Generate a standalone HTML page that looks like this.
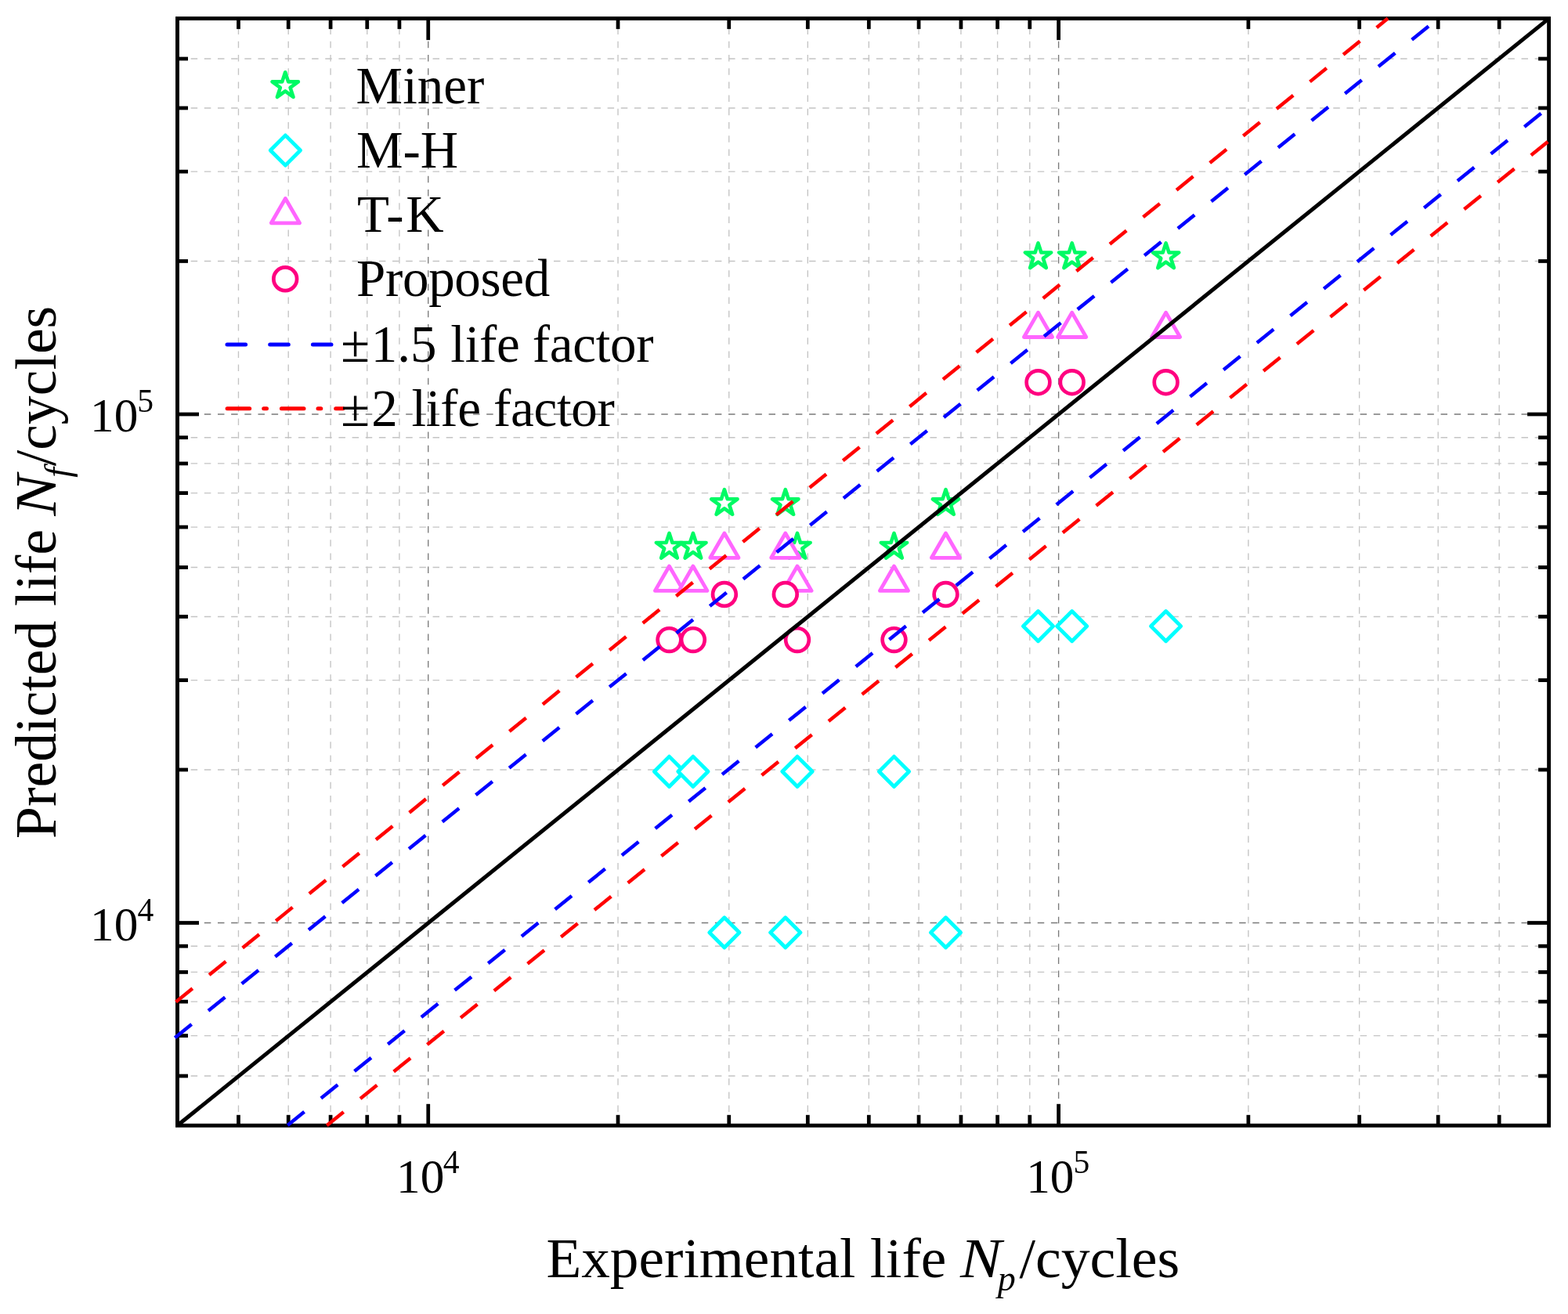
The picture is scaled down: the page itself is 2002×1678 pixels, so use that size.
<!DOCTYPE html><html><head><meta charset="utf-8"><title>Predicted vs experimental life</title><style>html,body{margin:0;padding:0;background:#fff;overflow:hidden;}svg{display:block;}text{font-family:"Liberation Serif","Times New Roman",serif;fill:#000;}</style></head><body>
<svg width="2002" height="1678" viewBox="0 0 2002 1678">
<rect width="2002" height="1678" fill="#fff"/>
<g id="grid"><line x1="304.47" y1="1437.3" x2="304.47" y2="23.6" stroke="#C4C4C4" stroke-width="1.35" stroke-dasharray="8.5 8.70"/><line x1="368.20" y1="1437.3" x2="368.20" y2="23.6" stroke="#C4C4C4" stroke-width="1.35" stroke-dasharray="8.5 8.70"/><line x1="422.08" y1="1437.3" x2="422.08" y2="23.6" stroke="#C4C4C4" stroke-width="1.35" stroke-dasharray="8.5 8.70"/><line x1="468.75" y1="1437.3" x2="468.75" y2="23.6" stroke="#C4C4C4" stroke-width="1.35" stroke-dasharray="8.5 8.70"/><line x1="509.92" y1="1437.3" x2="509.92" y2="23.6" stroke="#C4C4C4" stroke-width="1.35" stroke-dasharray="8.5 8.70"/><line x1="546.75" y1="1437.3" x2="546.75" y2="23.6" stroke="#7A7A7A" stroke-width="1.35" stroke-dasharray="8.5 8.70"/><line x1="789.03" y1="1437.3" x2="789.03" y2="23.6" stroke="#C4C4C4" stroke-width="1.35" stroke-dasharray="8.5 8.70"/><line x1="930.76" y1="1437.3" x2="930.76" y2="23.6" stroke="#C4C4C4" stroke-width="1.35" stroke-dasharray="8.5 8.70"/><line x1="1031.32" y1="1437.3" x2="1031.32" y2="23.6" stroke="#C4C4C4" stroke-width="1.35" stroke-dasharray="8.5 8.70"/><line x1="1109.32" y1="1437.3" x2="1109.32" y2="23.6" stroke="#C4C4C4" stroke-width="1.35" stroke-dasharray="8.5 8.70"/><line x1="1173.05" y1="1437.3" x2="1173.05" y2="23.6" stroke="#C4C4C4" stroke-width="1.35" stroke-dasharray="8.5 8.70"/><line x1="1226.93" y1="1437.3" x2="1226.93" y2="23.6" stroke="#C4C4C4" stroke-width="1.35" stroke-dasharray="8.5 8.70"/><line x1="1273.60" y1="1437.3" x2="1273.60" y2="23.6" stroke="#C4C4C4" stroke-width="1.35" stroke-dasharray="8.5 8.70"/><line x1="1314.77" y1="1437.3" x2="1314.77" y2="23.6" stroke="#C4C4C4" stroke-width="1.35" stroke-dasharray="8.5 8.70"/><line x1="1351.60" y1="1437.3" x2="1351.60" y2="23.6" stroke="#7A7A7A" stroke-width="1.35" stroke-dasharray="8.5 8.70"/><line x1="1593.88" y1="1437.3" x2="1593.88" y2="23.6" stroke="#C4C4C4" stroke-width="1.35" stroke-dasharray="8.5 8.70"/><line x1="1735.61" y1="1437.3" x2="1735.61" y2="23.6" stroke="#C4C4C4" stroke-width="1.35" stroke-dasharray="8.5 8.70"/><line x1="1836.17" y1="1437.3" x2="1836.17" y2="23.6" stroke="#C4C4C4" stroke-width="1.35" stroke-dasharray="8.5 8.70"/><line x1="1914.17" y1="1437.3" x2="1914.17" y2="23.6" stroke="#C4C4C4" stroke-width="1.35" stroke-dasharray="8.5 8.70"/><line x1="226.5" y1="1374.02" x2="1977.6" y2="1374.02" stroke="#C4C4C4" stroke-width="1.35" stroke-dasharray="8.5 8.66"/><line x1="226.5" y1="1322.59" x2="1977.6" y2="1322.59" stroke="#C4C4C4" stroke-width="1.35" stroke-dasharray="8.5 8.66"/><line x1="226.5" y1="1279.11" x2="1977.6" y2="1279.11" stroke="#C4C4C4" stroke-width="1.35" stroke-dasharray="8.5 8.66"/><line x1="226.5" y1="1241.44" x2="1977.6" y2="1241.44" stroke="#C4C4C4" stroke-width="1.35" stroke-dasharray="8.5 8.66"/><line x1="226.5" y1="1208.22" x2="1977.6" y2="1208.22" stroke="#C4C4C4" stroke-width="1.35" stroke-dasharray="8.5 8.66"/><line x1="226.5" y1="1178.50" x2="1977.6" y2="1178.50" stroke="#7A7A7A" stroke-width="1.35" stroke-dasharray="8.5 8.66"/><line x1="226.5" y1="982.98" x2="1977.6" y2="982.98" stroke="#C4C4C4" stroke-width="1.35" stroke-dasharray="8.5 8.66"/><line x1="226.5" y1="868.61" x2="1977.6" y2="868.61" stroke="#C4C4C4" stroke-width="1.35" stroke-dasharray="8.5 8.66"/><line x1="226.5" y1="787.46" x2="1977.6" y2="787.46" stroke="#C4C4C4" stroke-width="1.35" stroke-dasharray="8.5 8.66"/><line x1="226.5" y1="724.52" x2="1977.6" y2="724.52" stroke="#C4C4C4" stroke-width="1.35" stroke-dasharray="8.5 8.66"/><line x1="226.5" y1="673.09" x2="1977.6" y2="673.09" stroke="#C4C4C4" stroke-width="1.35" stroke-dasharray="8.5 8.66"/><line x1="226.5" y1="629.61" x2="1977.6" y2="629.61" stroke="#C4C4C4" stroke-width="1.35" stroke-dasharray="8.5 8.66"/><line x1="226.5" y1="591.94" x2="1977.6" y2="591.94" stroke="#C4C4C4" stroke-width="1.35" stroke-dasharray="8.5 8.66"/><line x1="226.5" y1="558.72" x2="1977.6" y2="558.72" stroke="#C4C4C4" stroke-width="1.35" stroke-dasharray="8.5 8.66"/><line x1="226.5" y1="529.00" x2="1977.6" y2="529.00" stroke="#7A7A7A" stroke-width="1.35" stroke-dasharray="8.5 8.66"/><line x1="226.5" y1="333.48" x2="1977.6" y2="333.48" stroke="#C4C4C4" stroke-width="1.35" stroke-dasharray="8.5 8.66"/><line x1="226.5" y1="219.11" x2="1977.6" y2="219.11" stroke="#C4C4C4" stroke-width="1.35" stroke-dasharray="8.5 8.66"/><line x1="226.5" y1="137.96" x2="1977.6" y2="137.96" stroke="#C4C4C4" stroke-width="1.35" stroke-dasharray="8.5 8.66"/><line x1="226.5" y1="75.02" x2="1977.6" y2="75.02" stroke="#C4C4C4" stroke-width="1.35" stroke-dasharray="8.5 8.66"/></g>
<g id="markers"><polygon points="854.50,680.90 858.43,692.99 871.14,692.99 860.86,700.47 864.79,712.56 854.50,705.09 844.21,712.56 848.14,700.47 837.86,692.99 850.57,692.99" fill="#fff" stroke="#00FA64" stroke-width="4.65" stroke-linejoin="round"/><polygon points="884.90,680.90 888.83,692.99 901.54,692.99 891.26,700.47 895.19,712.56 884.90,705.09 874.61,712.56 878.54,700.47 868.26,692.99 880.97,692.99" fill="#fff" stroke="#00FA64" stroke-width="4.65" stroke-linejoin="round"/><polygon points="924.90,625.20 928.83,637.29 941.54,637.29 931.26,644.77 935.19,656.86 924.90,649.39 914.61,656.86 918.54,644.77 908.26,637.29 920.97,637.29" fill="#fff" stroke="#00FA64" stroke-width="4.65" stroke-linejoin="round"/><polygon points="1002.80,625.20 1006.73,637.29 1019.44,637.29 1009.16,644.77 1013.09,656.86 1002.80,649.39 992.51,656.86 996.44,644.77 986.16,637.29 998.87,637.29" fill="#fff" stroke="#00FA64" stroke-width="4.65" stroke-linejoin="round"/><polygon points="1018.00,680.90 1021.93,692.99 1034.64,692.99 1024.36,700.47 1028.29,712.56 1018.00,705.09 1007.71,712.56 1011.64,700.47 1001.36,692.99 1014.07,692.99" fill="#fff" stroke="#00FA64" stroke-width="4.65" stroke-linejoin="round"/><polygon points="1141.50,680.90 1145.43,692.99 1158.14,692.99 1147.86,700.47 1151.79,712.56 1141.50,705.09 1131.21,712.56 1135.14,700.47 1124.86,692.99 1137.57,692.99" fill="#fff" stroke="#00FA64" stroke-width="4.65" stroke-linejoin="round"/><polygon points="1207.50,625.20 1211.43,637.29 1224.14,637.29 1213.86,644.77 1217.79,656.86 1207.50,649.39 1197.21,656.86 1201.14,644.77 1190.86,637.29 1203.57,637.29" fill="#fff" stroke="#00FA64" stroke-width="4.65" stroke-linejoin="round"/><polygon points="1325.50,310.40 1329.43,322.49 1342.14,322.49 1331.86,329.97 1335.79,342.06 1325.50,334.59 1315.21,342.06 1319.14,329.97 1308.86,322.49 1321.57,322.49" fill="#fff" stroke="#00FA64" stroke-width="4.65" stroke-linejoin="round"/><polygon points="1368.70,310.40 1372.63,322.49 1385.34,322.49 1375.06,329.97 1378.99,342.06 1368.70,334.59 1358.41,342.06 1362.34,329.97 1352.06,322.49 1364.77,322.49" fill="#fff" stroke="#00FA64" stroke-width="4.65" stroke-linejoin="round"/><polygon points="1488.60,310.40 1492.53,322.49 1505.24,322.49 1494.96,329.97 1498.89,342.06 1488.60,334.59 1478.31,342.06 1482.24,329.97 1471.96,322.49 1484.67,322.49" fill="#fff" stroke="#00FA64" stroke-width="4.65" stroke-linejoin="round"/><polygon points="854.50,966.15 873.65,985.30 854.50,1004.45 835.35,985.30" fill="#fff" stroke="#00FFFF" stroke-width="4.8" stroke-linejoin="round"/><polygon points="884.90,966.15 904.05,985.30 884.90,1004.45 865.75,985.30" fill="#fff" stroke="#00FFFF" stroke-width="4.8" stroke-linejoin="round"/><polygon points="924.90,1171.75 944.05,1190.90 924.90,1210.05 905.75,1190.90" fill="#fff" stroke="#00FFFF" stroke-width="4.8" stroke-linejoin="round"/><polygon points="1002.80,1171.75 1021.95,1190.90 1002.80,1210.05 983.65,1190.90" fill="#fff" stroke="#00FFFF" stroke-width="4.8" stroke-linejoin="round"/><polygon points="1018.00,966.15 1037.15,985.30 1018.00,1004.45 998.85,985.30" fill="#fff" stroke="#00FFFF" stroke-width="4.8" stroke-linejoin="round"/><polygon points="1141.50,966.15 1160.65,985.30 1141.50,1004.45 1122.35,985.30" fill="#fff" stroke="#00FFFF" stroke-width="4.8" stroke-linejoin="round"/><polygon points="1207.50,1171.75 1226.65,1190.90 1207.50,1210.05 1188.35,1190.90" fill="#fff" stroke="#00FFFF" stroke-width="4.8" stroke-linejoin="round"/><polygon points="1325.50,780.45 1344.65,799.60 1325.50,818.75 1306.35,799.60" fill="#fff" stroke="#00FFFF" stroke-width="4.8" stroke-linejoin="round"/><polygon points="1368.70,780.45 1387.85,799.60 1368.70,818.75 1349.55,799.60" fill="#fff" stroke="#00FFFF" stroke-width="4.8" stroke-linejoin="round"/><polygon points="1488.60,780.45 1507.75,799.60 1488.60,818.75 1469.45,799.60" fill="#fff" stroke="#00FFFF" stroke-width="4.8" stroke-linejoin="round"/><polygon points="854.50,723.05 872.60,754.40 836.40,754.40" fill="#fff" stroke="#FF66FF" stroke-width="4.8" stroke-linejoin="round"/><polygon points="884.90,723.05 903.00,754.40 866.80,754.40" fill="#fff" stroke="#FF66FF" stroke-width="4.8" stroke-linejoin="round"/><polygon points="924.90,680.95 943.00,712.30 906.80,712.30" fill="#fff" stroke="#FF66FF" stroke-width="4.8" stroke-linejoin="round"/><polygon points="1002.80,680.95 1020.90,712.30 984.70,712.30" fill="#fff" stroke="#FF66FF" stroke-width="4.8" stroke-linejoin="round"/><polygon points="1018.00,723.05 1036.10,754.40 999.90,754.40" fill="#fff" stroke="#FF66FF" stroke-width="4.8" stroke-linejoin="round"/><polygon points="1141.50,723.05 1159.60,754.40 1123.40,754.40" fill="#fff" stroke="#FF66FF" stroke-width="4.8" stroke-linejoin="round"/><polygon points="1207.50,680.95 1225.60,712.30 1189.40,712.30" fill="#fff" stroke="#FF66FF" stroke-width="4.8" stroke-linejoin="round"/><polygon points="1325.50,399.15 1343.60,430.50 1307.40,430.50" fill="#fff" stroke="#FF66FF" stroke-width="4.8" stroke-linejoin="round"/><polygon points="1368.70,399.15 1386.80,430.50 1350.60,430.50" fill="#fff" stroke="#FF66FF" stroke-width="4.8" stroke-linejoin="round"/><polygon points="1488.60,399.15 1506.70,430.50 1470.50,430.50" fill="#fff" stroke="#FF66FF" stroke-width="4.8" stroke-linejoin="round"/><circle cx="854.50" cy="817.10" r="14.85" fill="#fff" stroke="#FF0080" stroke-width="4.7"/><circle cx="884.90" cy="817.10" r="14.85" fill="#fff" stroke="#FF0080" stroke-width="4.7"/><circle cx="924.90" cy="759.00" r="14.85" fill="#fff" stroke="#FF0080" stroke-width="4.7"/><circle cx="1002.80" cy="759.00" r="14.85" fill="#fff" stroke="#FF0080" stroke-width="4.7"/><circle cx="1018.00" cy="817.10" r="14.85" fill="#fff" stroke="#FF0080" stroke-width="4.7"/><circle cx="1141.50" cy="817.10" r="14.85" fill="#fff" stroke="#FF0080" stroke-width="4.7"/><circle cx="1207.50" cy="759.00" r="14.85" fill="#fff" stroke="#FF0080" stroke-width="4.7"/><circle cx="1325.50" cy="488.20" r="14.85" fill="#fff" stroke="#FF0080" stroke-width="4.7"/><circle cx="1368.70" cy="488.20" r="14.85" fill="#fff" stroke="#FF0080" stroke-width="4.7"/><circle cx="1488.60" cy="488.20" r="14.85" fill="#fff" stroke="#FF0080" stroke-width="4.7"/></g>
<g id="axes"><rect x="226.5" y="23.6" width="1751.10" height="1413.70" fill="none" stroke="#000" stroke-width="4.9"/><line x1="304.47" y1="1437.3" x2="304.47" y2="1423.8" stroke="#000" stroke-width="4.75"/><line x1="304.47" y1="23.6" x2="304.47" y2="37.1" stroke="#000" stroke-width="4.75"/><line x1="226.5" y1="1374.02" x2="240.0" y2="1374.02" stroke="#000" stroke-width="4.75"/><line x1="1977.6" y1="1374.02" x2="1964.1" y2="1374.02" stroke="#000" stroke-width="4.75"/><line x1="368.20" y1="1437.3" x2="368.20" y2="1423.8" stroke="#000" stroke-width="4.75"/><line x1="368.20" y1="23.6" x2="368.20" y2="37.1" stroke="#000" stroke-width="4.75"/><line x1="226.5" y1="1322.59" x2="240.0" y2="1322.59" stroke="#000" stroke-width="4.75"/><line x1="1977.6" y1="1322.59" x2="1964.1" y2="1322.59" stroke="#000" stroke-width="4.75"/><line x1="422.08" y1="1437.3" x2="422.08" y2="1423.8" stroke="#000" stroke-width="4.75"/><line x1="422.08" y1="23.6" x2="422.08" y2="37.1" stroke="#000" stroke-width="4.75"/><line x1="226.5" y1="1279.11" x2="240.0" y2="1279.11" stroke="#000" stroke-width="4.75"/><line x1="1977.6" y1="1279.11" x2="1964.1" y2="1279.11" stroke="#000" stroke-width="4.75"/><line x1="468.75" y1="1437.3" x2="468.75" y2="1423.8" stroke="#000" stroke-width="4.75"/><line x1="468.75" y1="23.6" x2="468.75" y2="37.1" stroke="#000" stroke-width="4.75"/><line x1="226.5" y1="1241.44" x2="240.0" y2="1241.44" stroke="#000" stroke-width="4.75"/><line x1="1977.6" y1="1241.44" x2="1964.1" y2="1241.44" stroke="#000" stroke-width="4.75"/><line x1="509.92" y1="1437.3" x2="509.92" y2="1423.8" stroke="#000" stroke-width="4.75"/><line x1="509.92" y1="23.6" x2="509.92" y2="37.1" stroke="#000" stroke-width="4.75"/><line x1="226.5" y1="1208.22" x2="240.0" y2="1208.22" stroke="#000" stroke-width="4.75"/><line x1="1977.6" y1="1208.22" x2="1964.1" y2="1208.22" stroke="#000" stroke-width="4.75"/><line x1="546.75" y1="1437.3" x2="546.75" y2="1409.8" stroke="#000" stroke-width="4.75"/><line x1="546.75" y1="23.6" x2="546.75" y2="51.1" stroke="#000" stroke-width="4.75"/><line x1="226.5" y1="1178.50" x2="254.0" y2="1178.50" stroke="#000" stroke-width="4.75"/><line x1="1977.6" y1="1178.50" x2="1950.1" y2="1178.50" stroke="#000" stroke-width="4.75"/><line x1="789.03" y1="1437.3" x2="789.03" y2="1423.8" stroke="#000" stroke-width="4.75"/><line x1="789.03" y1="23.6" x2="789.03" y2="37.1" stroke="#000" stroke-width="4.75"/><line x1="226.5" y1="982.98" x2="240.0" y2="982.98" stroke="#000" stroke-width="4.75"/><line x1="1977.6" y1="982.98" x2="1964.1" y2="982.98" stroke="#000" stroke-width="4.75"/><line x1="930.76" y1="1437.3" x2="930.76" y2="1423.8" stroke="#000" stroke-width="4.75"/><line x1="930.76" y1="23.6" x2="930.76" y2="37.1" stroke="#000" stroke-width="4.75"/><line x1="226.5" y1="868.61" x2="240.0" y2="868.61" stroke="#000" stroke-width="4.75"/><line x1="1977.6" y1="868.61" x2="1964.1" y2="868.61" stroke="#000" stroke-width="4.75"/><line x1="1031.32" y1="1437.3" x2="1031.32" y2="1423.8" stroke="#000" stroke-width="4.75"/><line x1="1031.32" y1="23.6" x2="1031.32" y2="37.1" stroke="#000" stroke-width="4.75"/><line x1="226.5" y1="787.46" x2="240.0" y2="787.46" stroke="#000" stroke-width="4.75"/><line x1="1977.6" y1="787.46" x2="1964.1" y2="787.46" stroke="#000" stroke-width="4.75"/><line x1="1109.32" y1="1437.3" x2="1109.32" y2="1423.8" stroke="#000" stroke-width="4.75"/><line x1="1109.32" y1="23.6" x2="1109.32" y2="37.1" stroke="#000" stroke-width="4.75"/><line x1="226.5" y1="724.52" x2="240.0" y2="724.52" stroke="#000" stroke-width="4.75"/><line x1="1977.6" y1="724.52" x2="1964.1" y2="724.52" stroke="#000" stroke-width="4.75"/><line x1="1173.05" y1="1437.3" x2="1173.05" y2="1423.8" stroke="#000" stroke-width="4.75"/><line x1="1173.05" y1="23.6" x2="1173.05" y2="37.1" stroke="#000" stroke-width="4.75"/><line x1="226.5" y1="673.09" x2="240.0" y2="673.09" stroke="#000" stroke-width="4.75"/><line x1="1977.6" y1="673.09" x2="1964.1" y2="673.09" stroke="#000" stroke-width="4.75"/><line x1="1226.93" y1="1437.3" x2="1226.93" y2="1423.8" stroke="#000" stroke-width="4.75"/><line x1="1226.93" y1="23.6" x2="1226.93" y2="37.1" stroke="#000" stroke-width="4.75"/><line x1="226.5" y1="629.61" x2="240.0" y2="629.61" stroke="#000" stroke-width="4.75"/><line x1="1977.6" y1="629.61" x2="1964.1" y2="629.61" stroke="#000" stroke-width="4.75"/><line x1="1273.60" y1="1437.3" x2="1273.60" y2="1423.8" stroke="#000" stroke-width="4.75"/><line x1="1273.60" y1="23.6" x2="1273.60" y2="37.1" stroke="#000" stroke-width="4.75"/><line x1="226.5" y1="591.94" x2="240.0" y2="591.94" stroke="#000" stroke-width="4.75"/><line x1="1977.6" y1="591.94" x2="1964.1" y2="591.94" stroke="#000" stroke-width="4.75"/><line x1="1314.77" y1="1437.3" x2="1314.77" y2="1423.8" stroke="#000" stroke-width="4.75"/><line x1="1314.77" y1="23.6" x2="1314.77" y2="37.1" stroke="#000" stroke-width="4.75"/><line x1="226.5" y1="558.72" x2="240.0" y2="558.72" stroke="#000" stroke-width="4.75"/><line x1="1977.6" y1="558.72" x2="1964.1" y2="558.72" stroke="#000" stroke-width="4.75"/><line x1="1351.60" y1="1437.3" x2="1351.60" y2="1409.8" stroke="#000" stroke-width="4.75"/><line x1="1351.60" y1="23.6" x2="1351.60" y2="51.1" stroke="#000" stroke-width="4.75"/><line x1="226.5" y1="529.00" x2="254.0" y2="529.00" stroke="#000" stroke-width="4.75"/><line x1="1977.6" y1="529.00" x2="1950.1" y2="529.00" stroke="#000" stroke-width="4.75"/><line x1="1593.88" y1="1437.3" x2="1593.88" y2="1423.8" stroke="#000" stroke-width="4.75"/><line x1="1593.88" y1="23.6" x2="1593.88" y2="37.1" stroke="#000" stroke-width="4.75"/><line x1="226.5" y1="333.48" x2="240.0" y2="333.48" stroke="#000" stroke-width="4.75"/><line x1="1977.6" y1="333.48" x2="1964.1" y2="333.48" stroke="#000" stroke-width="4.75"/><line x1="1735.61" y1="1437.3" x2="1735.61" y2="1423.8" stroke="#000" stroke-width="4.75"/><line x1="1735.61" y1="23.6" x2="1735.61" y2="37.1" stroke="#000" stroke-width="4.75"/><line x1="226.5" y1="219.11" x2="240.0" y2="219.11" stroke="#000" stroke-width="4.75"/><line x1="1977.6" y1="219.11" x2="1964.1" y2="219.11" stroke="#000" stroke-width="4.75"/><line x1="1836.17" y1="1437.3" x2="1836.17" y2="1423.8" stroke="#000" stroke-width="4.75"/><line x1="1836.17" y1="23.6" x2="1836.17" y2="37.1" stroke="#000" stroke-width="4.75"/><line x1="226.5" y1="137.96" x2="240.0" y2="137.96" stroke="#000" stroke-width="4.75"/><line x1="1977.6" y1="137.96" x2="1964.1" y2="137.96" stroke="#000" stroke-width="4.75"/><line x1="1914.17" y1="1437.3" x2="1914.17" y2="1423.8" stroke="#000" stroke-width="4.75"/><line x1="1914.17" y1="23.6" x2="1914.17" y2="37.1" stroke="#000" stroke-width="4.75"/><line x1="226.5" y1="75.02" x2="240.0" y2="75.02" stroke="#000" stroke-width="4.75"/><line x1="1977.6" y1="75.02" x2="1964.1" y2="75.02" stroke="#000" stroke-width="4.75"/></g>
<g id="lines"><line x1="226.5" y1="1437.3" x2="1977.6" y2="23.6" stroke="#000" stroke-width="5"/><line x1="223.3" y1="1325.17" x2="1836.17" y2="23.6" stroke="#00f" stroke-width="4.5" stroke-dasharray="27.45 27.4"/><line x1="367.20" y1="1436.90" x2="1977.6" y2="136.76" stroke="#00f" stroke-width="4.5" stroke-dasharray="27.45 27.4"/><line x1="224.5" y1="1279.62" x2="1772" y2="23.6" stroke="#f00" stroke-width="4.5" stroke-dasharray="27.45 27.4"/><line x1="417.3" y1="1437.3" x2="1977.6" y2="180" stroke="#f00" stroke-width="4.5" stroke-dasharray="27.45 27.4"/></g>
<g id="ticklabels"><text x="506.03" y="1522.90" font-size="61.3">10</text><text x="565.82" y="1497.70" font-size="41.6">4</text><text x="1310.23" y="1522.70" font-size="61.3">10</text><text x="1370.43" y="1497.60" font-size="41.6">5</text><text x="115.03" y="551.00" font-size="61.3">10</text><text x="175.23" y="526.10" font-size="41.6">5</text><text x="115.03" y="1200.50" font-size="61.3">10</text><text x="175.52" y="1175.50" font-size="41.6">4</text></g>
<g id="xtitle"><text x="697.45" y="1630.6" font-size="71.5" textLength="510.9" lengthAdjust="spacingAndGlyphs">Experimental life</text><text x="1226.0" y="1630.6" font-size="71.5" font-style="italic" textLength="52.8" lengthAdjust="spacingAndGlyphs">N</text><text x="1273.67" y="1648.40" font-size="46" font-style="italic">p</text><text x="1301.4" y="1630.6" font-size="71.5" textLength="204.9" lengthAdjust="spacingAndGlyphs">/cycles</text></g>
<g id="ytitle" transform="translate(70.8 1069) rotate(-90)"><text x="-2.06" y="0" font-size="75.0" textLength="395.1" lengthAdjust="spacingAndGlyphs">Predicted life</text><text x="410.2" y="0" font-size="75.0" font-style="italic" textLength="52.8" lengthAdjust="spacingAndGlyphs">N</text><text x="459.3" y="17.8" font-size="46" font-style="italic">f</text><text x="473.7" y="0" font-size="75.0" textLength="204.6" lengthAdjust="spacingAndGlyphs">/cycles</text></g>
<g id="legend"><polygon points="364.20,92.30 368.13,104.39 380.84,104.39 370.56,111.87 374.49,123.96 364.20,116.49 353.91,123.96 357.84,111.87 347.56,104.39 360.27,104.39" fill="#fff" stroke="#00FA64" stroke-width="4.65" stroke-linejoin="round"/><polygon points="364.40,172.85 383.55,192.00 364.40,211.15 345.25,192.00" fill="#fff" stroke="#00FFFF" stroke-width="4.8" stroke-linejoin="round"/><polygon points="364.40,253.45 382.50,284.80 346.30,284.80" fill="#fff" stroke="#FF66FF" stroke-width="4.8" stroke-linejoin="round"/><circle cx="364.20" cy="356.25" r="14.85" fill="#fff" stroke="#FF0080" stroke-width="4.7"/><text x="454.62" y="132.2" font-size="67">Miner</text><text x="454.92" y="213.5" font-size="67">M-H</text><text x="455.99" y="296" font-size="67" textLength="110.6" lengthAdjust="spacing">T-K</text><text x="454.92" y="378.0" font-size="67" textLength="247.4" lengthAdjust="spacing">Proposed</text><line x1="290" y1="440" x2="438" y2="440" stroke="#00f" stroke-width="5" stroke-linecap="round" stroke-dasharray="23.6 31.1"/><line x1="290.1" y1="521.7" x2="438" y2="521.7" stroke="#f00" stroke-width="5" stroke-linecap="round" stroke-dasharray="28.6 18 3.8 18.9"/><text y="461.9" font-size="67"><tspan x="435.19">±</tspan><tspan x="473.66">1.5</tspan> <tspan x="575.36" textLength="259.2" lengthAdjust="spacing">life factor</tspan></text><text y="543.5" font-size="67"><tspan x="435.19">±</tspan><tspan x="474.2">2</tspan> <tspan x="525.56" textLength="259.2" lengthAdjust="spacing">life factor</tspan></text></g>
</svg></body></html>
